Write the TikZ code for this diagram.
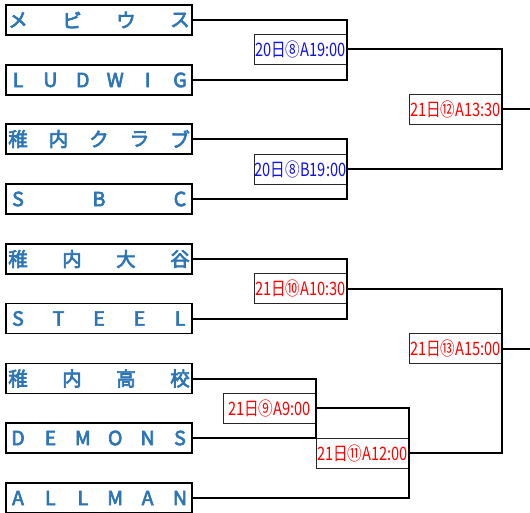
\documentclass[tikz,border=0pt]{standalone}
\usepackage{fontspec}
\newfontfamily\jpfont{Noto Sans CJK JP}
\newfontfamily\teamfont[FakeBold=3.5]{Noto Sans CJK JP}
\usetikzlibrary{calc, positioning}
\definecolor{teamblue}{HTML}{2E75B6}
\definecolor{matchblue}{HTML}{1010E8}
\definecolor{matchred}{HTML}{FF0000}
\tikzset{
  teambox/.style={draw=black, line width=1.3pt, minimum width=186pt, minimum height=30pt, inner sep=0pt},
  teamtext/.style={text=teamblue, font=\teamfont\fontsize{19.5}{19.5}\selectfont, inner sep=0pt},
  matchbox/.style={draw=black!85, fill=white, line width=0.8pt, minimum width=93pt, minimum height=30pt, inner sep=0pt, font=\jpfont\fontsize{18.5}{18.5}\selectfont},
  bracket/.style={line width=2pt, black}
}
\newcommand\team[4]{% name, centre y, number of letters, letters
  \node[teambox] (#1) at (99,#2) {};
  \foreach \letter [count=\k] in {#4}{
    \node[teamtext] at ({18+(\k-1)*162/(#3-1)},#2) {\letter};
  }
}
\newcommand\match[5]{% name, centre x, centre y, colour, text
  \node[matchbox, text=#4] (#1) at (#2,#3) {\scalebox{0.79}[1]{#5}};
}

\begin{document}
\begin{tikzpicture}[x=1pt, y=-1pt]
  \useasboundingbox (0,0) rectangle (530,513);
  % teams
  \team{t1}{20}{4}{メ,ビ,ウ,ス}
  \team{t2}{80}{6}{L,U,D,W,I,G}
  \team{t3}{139}{5}{稚,内,ク,ラ,ブ}
  \team{t4}{199}{3}{S,B,C}
  \team{t5}{259}{4}{稚,内,大,谷}
  \team{t6}{318.5}{5}{S,T,E,E,L}
  \team{t7}{378.5}{4}{稚,内,高,校}
  \team{t8}{438}{6}{D,E,M,O,N,S}
  \team{t9}{498}{6}{A,L,L,M,A,N}
  % matches
  \match{m8a}{300.5}{49.5}{matchblue}{20日⑧A19:00}
  \match{m8b}{300.5}{169}{matchblue}{20日⑧B19:00}
  \match{m10}{300.5}{288.5}{matchred}{21日⑩A10:30}
  \match{m9}{269.5}{408}{matchred}{21日⑨A9:00}
  \match{m11}{362.5}{453}{matchred}{21日⑪A12:00}
  \match{m12}{455.5}{109.5}{matchred}{21日⑫A13:30}
  \match{m13}{455.5}{348.5}{matchred}{21日⑬A15:00}
  \coordinate (out12) at (530,109.5);
  \coordinate (out13) at (530,348.5);
  % bracket lines
  \draw[bracket] (t1.east) -| (m8a.east) |- (t2.east);
  \draw[bracket] (t3.east) -| (m8b.east) |- (t4.east);
  \draw[bracket] (t5.east) -| (m10.east) |- (t6.east);
  \draw[bracket] (t7.east) -| (m9.east) |- (t8.east);
  \draw[bracket] (m9.east) -| (m11.east) |- (t9.east);
  \draw[bracket] (m8a.east) -| (m12.east) |- (m8b.east);
  \draw[bracket] (m10.east) -| (m13.east) |- (m11.east);
  \draw[bracket] (m12.east) -- (out12);
  \draw[bracket] (m13.east) -- (out13);
\end{tikzpicture}
\end{document}
